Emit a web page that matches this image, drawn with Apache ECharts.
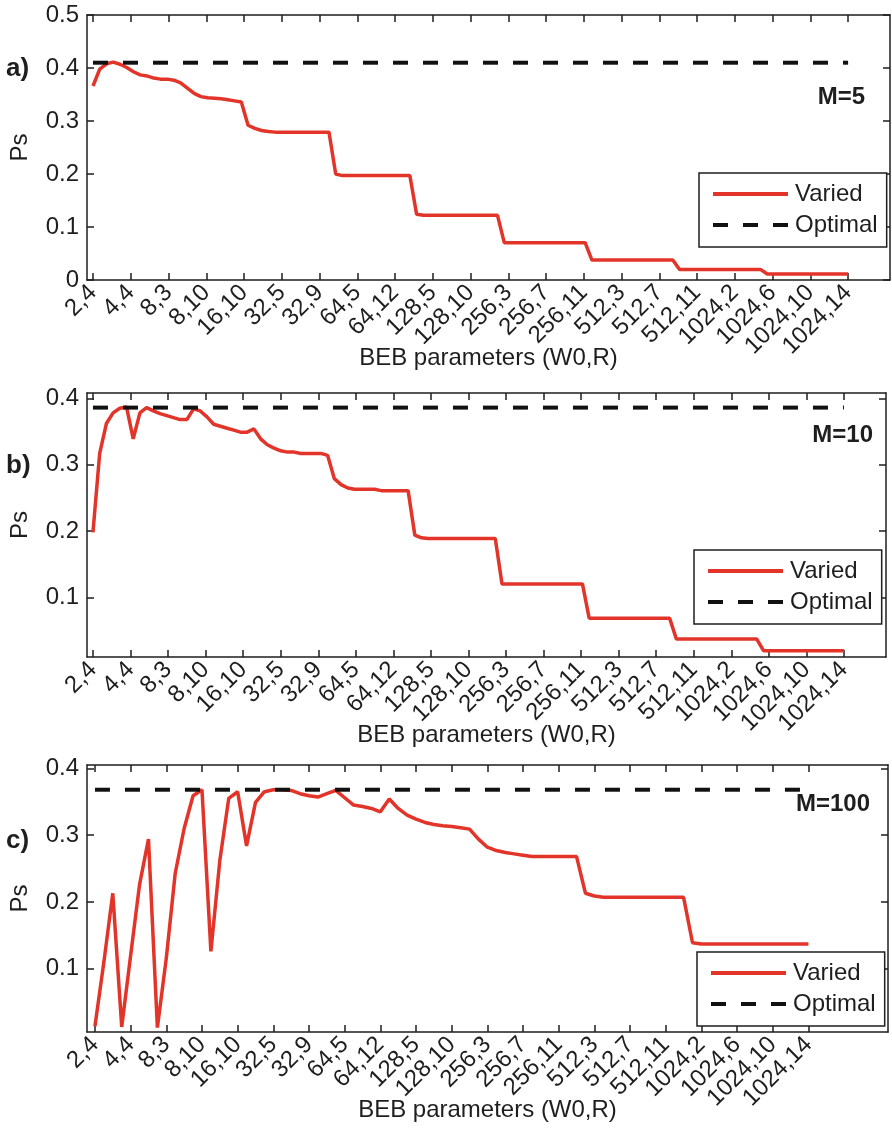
<!DOCTYPE html>
<html>
<head>
<meta charset="utf-8">
<script src="https://cdn.jsdelivr.net/npm/echarts@6/dist/echarts.min.js"></script>
<style>
html, body { margin: 0; padding: 0; background: #fff; }
#main { width: 892px; height: 1130px; }
</style>
</head>
<body>
<div id="main"></div>
<script>
// tick labels shared by the three panels
var tickLabels = ['2,4', '4,4', '8,3', '8,10', '16,10', '32,5', '32,9', '64,5', '64,12', '128,5', '128,10',
    '256,3', '256,7', '256,11', '512,3', '512,7', '512,11', '1024,2', '1024,6', '1024,10', '1024,14'];

// Ps, M=5
var psM5 = [0.366, 0.398, 0.408, 0.411, 0.407, 0.401, 0.393, 0.387, 0.385, 0.381,
    0.379, 0.379, 0.377, 0.372, 0.362, 0.352, 0.346, 0.344, 0.343, 0.342,
    0.340, 0.338, 0.336, 0.292, 0.286, 0.282, 0.280, 0.279, 0.279, 0.279,
    0.279, 0.279, 0.279, 0.279, 0.279, 0.279, 0.200, 0.197, 0.197, 0.197,
    0.197, 0.197, 0.197, 0.197, 0.197, 0.197, 0.197, 0.197, 0.124, 0.122,
    0.122, 0.122, 0.122, 0.122, 0.122, 0.122, 0.122, 0.122, 0.122, 0.122,
    0.122, 0.0704, 0.0704, 0.0704, 0.0704, 0.0704, 0.0704, 0.0704, 0.0704, 0.0704,
    0.0704, 0.0704, 0.0704, 0.0704, 0.0377, 0.0377, 0.0377, 0.0377, 0.0377, 0.0377,
    0.0377, 0.0377, 0.0377, 0.0377, 0.0377, 0.0377, 0.0377, 0.020, 0.020, 0.020,
    0.020, 0.020, 0.020, 0.020, 0.020, 0.020, 0.020, 0.020, 0.020, 0.020,
    0.0113, 0.0113, 0.0113, 0.0113, 0.0113, 0.0113, 0.0113, 0.0113, 0.0113, 0.0113,
    0.0113, 0.0113, 0.0113];

// Ps, M=10
var psM10 = [0.198, 0.317, 0.362, 0.378, 0.385, 0.387, 0.339, 0.378, 0.386, 0.381,
    0.377, 0.374, 0.371, 0.368, 0.368, 0.384, 0.381, 0.372, 0.361, 0.358,
    0.355, 0.352, 0.349, 0.349, 0.354, 0.339, 0.330, 0.325, 0.321, 0.319,
    0.319, 0.317, 0.317, 0.317, 0.317, 0.314, 0.279, 0.270, 0.265, 0.263,
    0.263, 0.263, 0.263, 0.261, 0.261, 0.261, 0.261, 0.261, 0.194, 0.190,
    0.189, 0.189, 0.189, 0.189, 0.189, 0.189, 0.189, 0.189, 0.189, 0.189,
    0.189, 0.1206, 0.1206, 0.1206, 0.1206, 0.1206, 0.1206, 0.1206, 0.1206, 0.1206,
    0.1206, 0.1206, 0.1206, 0.1206, 0.069, 0.069, 0.069, 0.069, 0.069, 0.069,
    0.069, 0.069, 0.069, 0.069, 0.069, 0.069, 0.069, 0.0375, 0.0375, 0.0375,
    0.0375, 0.0375, 0.0375, 0.0375, 0.0375, 0.0375, 0.0375, 0.0375, 0.0375, 0.0375,
    0.020, 0.020, 0.020, 0.020, 0.020, 0.020, 0.020, 0.020, 0.020, 0.020,
    0.020, 0.020, 0.020];

// Ps, M=100
var psM100 = [0.014, 0.11, 0.213, 0.013, 0.12, 0.226, 0.294, 0.012, 0.116, 0.243,
    0.31, 0.359, 0.368, 0.126, 0.262, 0.355, 0.365, 0.284, 0.349, 0.365,
    0.368, 0.368, 0.367, 0.362, 0.359, 0.357, 0.362, 0.367, 0.356, 0.345,
    0.343, 0.340, 0.335, 0.354, 0.340, 0.330, 0.324, 0.319, 0.316, 0.314,
    0.313, 0.311, 0.309, 0.294, 0.282, 0.277, 0.274, 0.272, 0.270, 0.268,
    0.268, 0.268, 0.268, 0.268, 0.268, 0.213, 0.209, 0.207, 0.207, 0.207,
    0.207, 0.207, 0.207, 0.207, 0.207, 0.207, 0.207, 0.139, 0.137, 0.137,
    0.137, 0.137, 0.137, 0.137, 0.137, 0.137, 0.137, 0.137, 0.137, 0.137,
    0.137];

var optimal = [0.41, 0.386, 0.368];
var panelTitles = ['M=5', 'M=10', 'M=100'];
var panelTags = ['a)', 'b)', 'c)'];
var yTicksA = [0, 0.1, 0.2, 0.3, 0.4, 0.5];
var yTicksBC = [0.1, 0.2, 0.3, 0.4];

var FONT = '"Liberation Sans", Arial, Helvetica, sans-serif';
var INK = '#1e1e1e';
var RED = '#e3342a';

// legend icons: solid bar and three dashes, same size as the plotted strokes
var ICON_SOLID = 'path://M0,0h75v4h-75z';
var ICON_DASH = 'path://M0,0h15v4h-15z M30,0h15v4h-15z M60,0h15v4h-15z';

// layout of the three panels
var panels = [
    {ps: psM5, grid: {left: 86, top: 15, width: 804, height: 265}, x: [-0.159, 21.11], y: [0, 0.5], yTicks: yTicksA,
        legend: {left: 699, top: 173}, title: {right: 27, top: 85}, tag: {left: 6, top: 56}},
    {ps: psM10, grid: {left: 82, top: 393, width: 804, height: 264}, x: [-0.159, 21.12], y: [0.0105, 0.408], yTicks: yTicksBC,
        legend: {left: 694, top: 550}, title: {right: 19, top: 423}, tag: {left: 6, top: 453}},
    {ps: psM100, grid: {left: 84, top: 765, width: 804, height: 267}, x: [-0.223, 22.23], y: [0.0054, 0.405], yTicks: yTicksBC,
        legend: {left: 697, top: 952}, title: {right: 22, top: 792}, tag: {left: 6, top: 828}}
];

var xTickPos = tickLabels.map(function (s, k) { return k; });
var lineOf = {color: INK, width: 1.5};

var option = {
    backgroundColor: '#fff',
    animation: false,
    grid: [], xAxis: [], yAxis: [], series: [], legend: [], graphic: []
};

panels.forEach(function (p, k) {
    option.grid.push(p.grid);

    option.xAxis.push({
        type: 'value', gridIndex: k, min: p.x[0], max: p.x[1], position: 'bottom',
        axisLine: {show: true, onZero: false, lineStyle: lineOf},
        axisTick: {show: true, inside: true, length: 7, customValues: xTickPos, lineStyle: lineOf},
        axisLabel: {
            customValues: xTickPos, rotate: 45, margin: 9, fontSize: 24, fontFamily: FONT, color: INK,
            formatter: function (v) { return tickLabels[Math.round(v)]; }
        },
        splitLine: {show: false},
        name: 'BEB parameters (W0,R)', nameLocation: 'middle', nameGap: 66, nameMoveOverlap: false,
        nameTextStyle: {fontSize: 24, fontFamily: FONT, color: INK}
    });
    option.yAxis.push({
        type: 'value', gridIndex: k, min: p.y[0], max: p.y[1], position: 'left',
        axisLine: {show: true, onZero: false, lineStyle: lineOf},
        axisTick: {show: true, inside: true, length: 7, customValues: p.yTicks, lineStyle: lineOf},
        axisLabel: {
            customValues: p.yTicks, margin: 8, fontSize: 24, fontFamily: FONT, color: INK,
            formatter: function (v) { return v === 0 ? '0' : v.toFixed(1); }
        },
        splitLine: {show: false},
        name: 'Ps', nameLocation: 'middle', nameGap: 55, nameRotate: 90, nameMoveOverlap: false,
        nameTextStyle: {fontSize: 24, fontFamily: FONT, color: INK}
    });

    var lineData = p.ps.map(function (v, j) { return [j * 20 / (p.ps.length - 1), v]; });
    option.series.push({
        name: 'Varied', type: 'line', xAxisIndex: k, yAxisIndex: k,
        data: lineData, symbol: 'none', silent: true,
        lineStyle: {color: RED, width: 3.5}, itemStyle: {color: RED}
    });
    option.series.push({
        name: 'Optimal', type: 'line', xAxisIndex: k, yAxisIndex: k,
        data: [[0, optimal[k]], [20, optimal[k]]], symbol: 'none', silent: true,
        lineStyle: {color: '#111', width: 4, type: [15, 15]}, itemStyle: {color: '#111'}
    });

    option.legend.push({
        data: [{name: 'Varied', icon: ICON_SOLID}, {name: 'Optimal', icon: ICON_DASH}],
        orient: 'vertical',
        left: p.legend.left, top: p.legend.top,
        padding: [9, 9, 10, 14], itemGap: 7, itemWidth: 75, itemHeight: 4,
        backgroundColor: '#fff', borderColor: INK, borderWidth: 1.5, borderRadius: 0,
        selectedMode: false,
        textStyle: {fontSize: 24, fontFamily: FONT, color: INK, padding: [0, 0, 0, 2]}
    });

    option.graphic.push({
        type: 'text', right: p.title.right, top: p.title.top, silent: true,
        style: {text: panelTitles[k], font: 'bold 24px ' + FONT, fill: INK}
    });
    option.graphic.push({
        type: 'text', left: p.tag.left, top: p.tag.top, silent: true,
        style: {text: panelTags[k], font: 'bold 26px ' + FONT, fill: INK}
    });
});

// mirrored top / right axes to close the box
panels.forEach(function (p, k) {
    option.xAxis.push({
        type: 'value', gridIndex: k, min: p.x[0], max: p.x[1], position: 'top',
        axisLine: {show: true, onZero: false, lineStyle: lineOf},
        axisTick: {show: true, inside: true, length: 7, customValues: xTickPos, lineStyle: lineOf},
        axisLabel: {show: false}, splitLine: {show: false}
    });
    option.yAxis.push({
        type: 'value', gridIndex: k, min: p.y[0], max: p.y[1], position: 'right',
        axisLine: {show: true, onZero: false, lineStyle: lineOf},
        axisTick: {show: true, inside: true, length: 7, customValues: p.yTicks, lineStyle: lineOf},
        axisLabel: {show: false}, splitLine: {show: false}
    });
});

var myChart = echarts.init(document.getElementById('main'));
myChart.setOption(option);
</script>
</body>
</html>
